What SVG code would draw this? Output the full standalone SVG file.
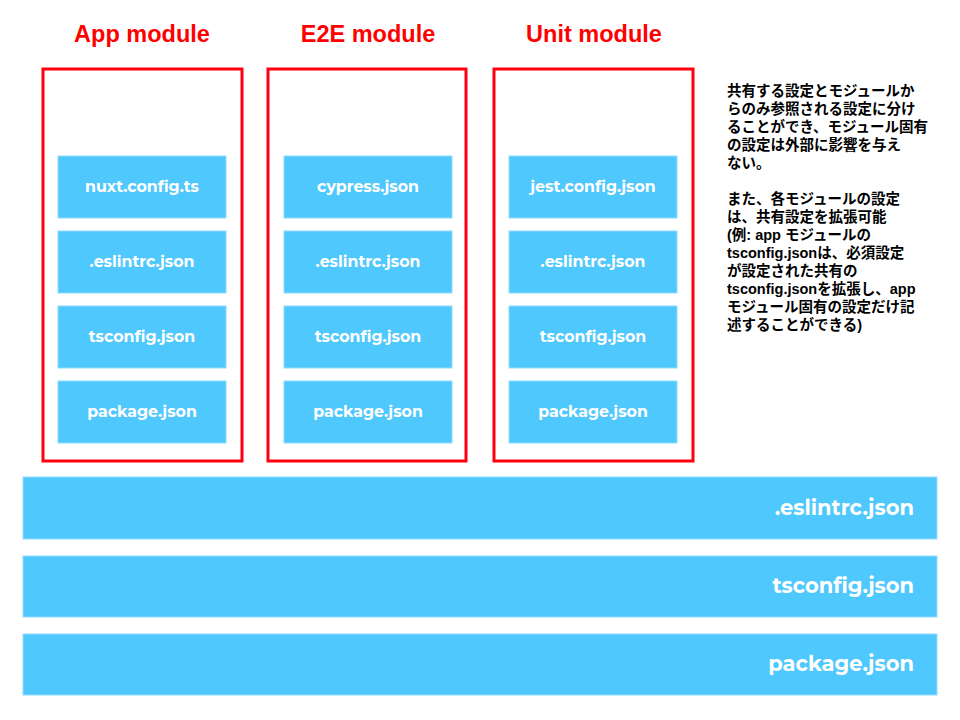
<svg xmlns="http://www.w3.org/2000/svg" width="960" height="720" viewBox="0 0 960 720">
<style>
.mod{fill:#fff;stroke:#ff0010;stroke-width:3}
.title{font-family:"Liberation Sans",Arial,sans-serif;font-weight:bold;font-size:23.5px;fill:#ff0000;text-anchor:middle}
.box{fill:#4fc8fe;stroke:#8fdcff;stroke-width:1}
.lbl{font-family:Montserrat,"Open Sans","DejaVu Sans",sans-serif;font-weight:bold;font-size:15.8px;fill:#fff;text-anchor:middle}
.big{font-family:Montserrat,"Open Sans","DejaVu Sans",sans-serif;font-weight:bold;font-size:21px;fill:#fff;text-anchor:end}
.note{font-family:"Liberation Sans","Noto Sans CJK JP",sans-serif;font-weight:bold;font-size:14.5px;fill:#000}
</style>
<rect width="960" height="720" fill="#fff"/>
<g id="app">
<text class="title" x="142" y="42">App module</text>
<rect class="mod" x="43" y="69" width="199" height="392"/>
<g id="app-nuxt"><rect class="box" x="58" y="156" width="168" height="62"/><text class="lbl" x="142" y="192">nuxt.config.ts</text></g>
<g id="app-eslint"><rect class="box" x="58" y="231" width="168" height="62"/><text class="lbl" x="142" y="267">.eslintrc.json</text></g>
<g id="app-ts"><rect class="box" x="58" y="306" width="168" height="62"/><text class="lbl" x="142" y="342">tsconfig.json</text></g>
<g id="app-pkg"><rect class="box" x="58" y="381" width="168" height="62"/><text class="lbl" x="142" y="417">package.json</text></g>
</g>
<g id="e2e">
<text class="title" x="368" y="42">E2E module</text>
<rect class="mod" x="268" y="69" width="198" height="392"/>
<g id="e2e-cypress"><rect class="box" x="284" y="156" width="168" height="62"/><text class="lbl" x="368" y="192">cypress.json</text></g>
<g id="e2e-eslint"><rect class="box" x="284" y="231" width="168" height="62"/><text class="lbl" x="368" y="267">.eslintrc.json</text></g>
<g id="e2e-ts"><rect class="box" x="284" y="306" width="168" height="62"/><text class="lbl" x="368" y="342">tsconfig.json</text></g>
<g id="e2e-pkg"><rect class="box" x="284" y="381" width="168" height="62"/><text class="lbl" x="368" y="417">package.json</text></g>
</g>
<g id="unit">
<text class="title" x="594" y="42">Unit module</text>
<rect class="mod" x="494" y="69" width="199" height="392"/>
<g id="unit-jest"><rect class="box" x="509" y="156" width="168" height="62"/><text class="lbl" x="593" y="192">jest.config.json</text></g>
<g id="unit-eslint"><rect class="box" x="509" y="231" width="168" height="62"/><text class="lbl" x="593" y="267">.eslintrc.json</text></g>
<g id="unit-ts"><rect class="box" x="509" y="306" width="168" height="62"/><text class="lbl" x="593" y="342">tsconfig.json</text></g>
<g id="unit-pkg"><rect class="box" x="509" y="381" width="168" height="62"/><text class="lbl" x="593" y="417">package.json</text></g>
</g>
<g id="shared-eslint"><rect class="box" x="23" y="477" width="914" height="62"/><text class="big" x="914" y="515">.eslintrc.json</text></g>
<g id="shared-ts"><rect class="box" x="23" y="556" width="914" height="61"/><text class="big" x="914" y="593">tsconfig.json</text></g>
<g id="shared-pkg"><rect class="box" x="23" y="634" width="914" height="61"/><text class="big" x="914" y="671">package.json</text></g>
<g id="note">
<text class="note" x="727" y="96">共有する設定とモジュールか</text>
<text class="note" x="727" y="114">らのみ参照される設定に分け</text>
<text class="note" x="727" y="132">ることができ、モジュール固有</text>
<text class="note" x="727" y="150">の設定は外部に影響を与え</text>
<text class="note" x="727" y="168">ない。</text>
<text class="note" x="727" y="204">また、各モジュールの設定</text>
<text class="note" x="727" y="222">は、共有設定を拡張可能</text>
<text class="note" x="727" y="240">(例: app モジュールの</text>
<text class="note" x="727" y="258">tsconfig.jsonは、必須設定</text>
<text class="note" x="727" y="276">が設定された共有の</text>
<text class="note" x="727" y="294">tsconfig.jsonを拡張し、app</text>
<text class="note" x="727" y="312">モジュール固有の設定だけ記</text>
<text class="note" x="727" y="330">述することができる)</text>
</g>
</svg>
